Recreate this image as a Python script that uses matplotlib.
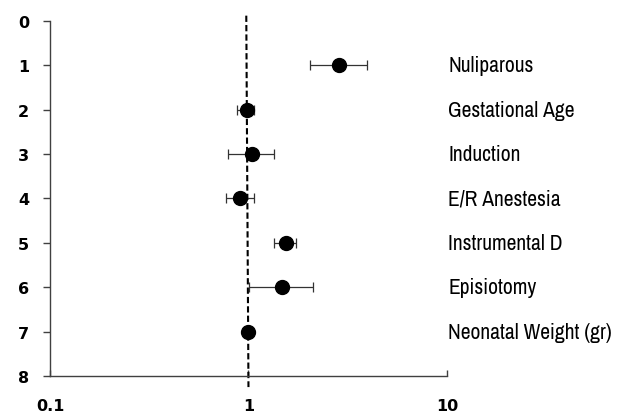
import matplotlib
matplotlib.use("Agg")
import matplotlib.pyplot as plt
from matplotlib import font_manager

labels = ["Nuliparous", "Gestational Age", "Induction", "E/R Anestesia",
          "Instrumental D", "Episiotomy", "Neonatal Weight (gr)"]
positions = [1, 2, 3, 4, 5, 6, 7]
odds = [2.86, 0.98, 1.04, 0.91, 1.55, 1.47, 1.00]
ci_low = [2.04, 0.88, 0.79, 0.77, 1.34, 1.01, 0.985]
ci_high = [3.95, 1.07, 1.34, 1.07, 1.73, 2.12, 1.015]
ref_x = [0.975, 1.0]
ref_y = [-0.12, 8.25]
x_ticks = [0.1, 1, 10]
x_ticklabels = ["0.1", "1", "10"]
y_ticks = [0, 1, 2, 3, 4, 5, 6, 7, 8]

# look for a condensed face for the right-hand labels
label_family = None
label_stretch = "normal"
for f in font_manager.fontManager.ttflist:
    if "Narrow" in f.name or "Condensed" in f.name:
        label_family = [f.name, "DejaVu Sans"]
        break
if label_family is None:
    for f in font_manager.fontManager.ttflist:
        if f.stretch in ("condensed", "semi-condensed", 500, 400) and f.stretch != "normal" and f.style == "normal":
            label_family = [f.name, "DejaVu Sans"]
            label_stretch = f.stretch
            break
if label_family is None:
    label_family = ["Liberation Sans", "DejaVu Sans"]

fig = plt.figure(figsize=(6.2, 4.14), dpi=100)
ax = fig.add_axes([0.0806, 0.0894, 0.6403, 0.8575])

ax.plot(ref_x, ref_y, color="black", lw=1.5, dashes=(3, 1.5), clip_on=False, zorder=2)

err_lo = [o - l for o, l in zip(odds, ci_low)]
err_hi = [h - o for o, h in zip(odds, ci_high)]
ax.errorbar(odds, positions, xerr=[err_lo, err_hi], fmt="o", color="black",
            ecolor="#333333", elinewidth=0.9, capsize=3.6, capthick=0.9,
            markersize=10, zorder=3)

ax.set_xscale("log")
ax.set_xlim(0.1, 10)
ax.set_ylim(8, 0)
ax.set_xticks(x_ticks)
ax.set_xticklabels(x_ticklabels)
ax.minorticks_off()
ax.set_yticks(y_ticks)

for s in ["top", "right"]:
    ax.spines[s].set_visible(False)
for s in ["left", "bottom"]:
    ax.spines[s].set_color("#404040")
    ax.spines[s].set_linewidth(1.0)

ax.tick_params(axis="y", direction="out", length=5, width=1.0, color="#404040", pad=10)
ax.tick_params(axis="x", direction="in", length=4, width=1.0, color="#404040", pad=16)
for t in ax.get_xticklabels() + ax.get_yticklabels():
    t.set_fontweight("bold")
    t.set_fontsize(11.5)
    t.set_family("DejaVu Sans")

for lab, p in zip(labels, positions):
    ax.annotate(lab, xy=(1.0, p), xycoords=("axes fraction", "data"),
                xytext=(1, 0), textcoords="offset points", va="center", ha="left",
                fontsize=15.5, family=label_family, fontstretch=label_stretch,
                annotation_clip=False)

fig.savefig("out.png", dpi=100)
